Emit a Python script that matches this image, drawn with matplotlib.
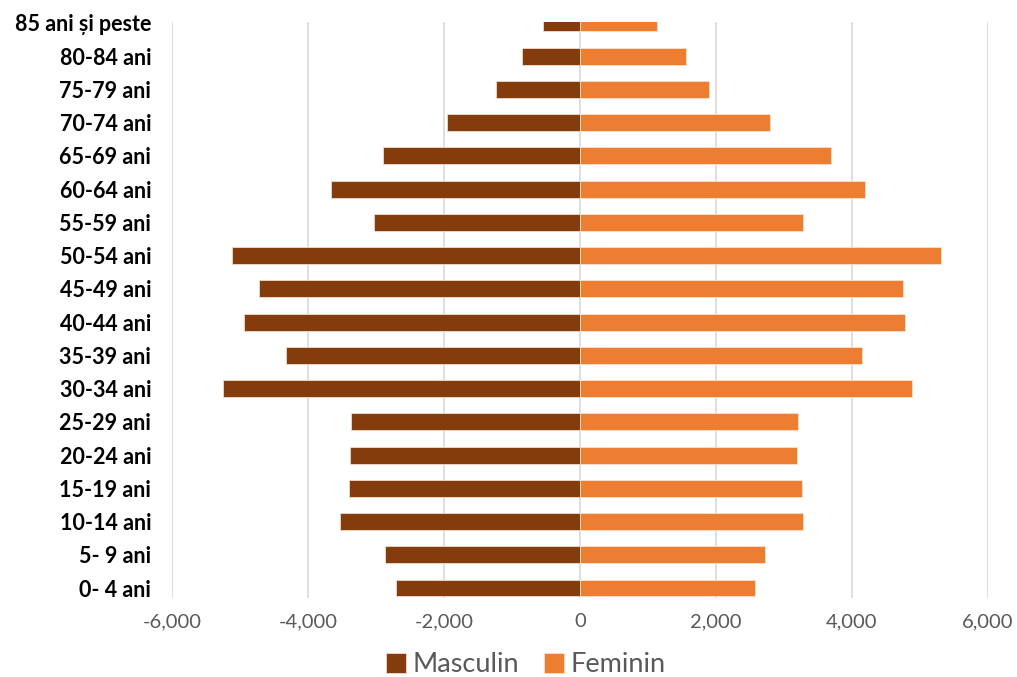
import matplotlib
matplotlib.use("Agg")
import matplotlib.pyplot as plt
from matplotlib.ticker import FuncFormatter

age_groups = ["0- 4 ani", "5- 9 ani", "10-14 ani", "15-19 ani", "20-24 ani", "25-29 ani",
              "30-34 ani", "35-39 ani", "40-44 ani", "45-49 ani", "50-54 ani", "55-59 ani",
              "60-64 ani", "65-69 ani", "70-74 ani", "75-79 ani", "80-84 ani", "85 ani și peste"]
masculin = [2706, 2868, 3529, 3397, 3382, 3368, 5250, 4324, 4941, 4721,
            5118, 3029, 3662, 2897, 1956, 1235, 853, 544]
feminin = [2574, 2721, 3279, 3265, 3191, 3206, 4882, 4147, 4779, 4750,
           5309, 3279, 4191, 3691, 2794, 1897, 1559, 1132]

plt.rcParams['font.family'] = ['Lato', 'DejaVu Sans']

fig = plt.figure(figsize=(10.17, 6.77), dpi=100)
ax = fig.add_axes([0.169, 0.1167, 0.8025, 0.8508])

y = list(range(len(age_groups)))
ax.barh(y, [-m for m in masculin], height=0.51, color="#843C0C", edgecolor="#F2DCCF",
        linewidth=0.6, label="Masculin", zorder=3)
ax.barh(y, feminin, height=0.51, color="#ED7D31", edgecolor="#FBE0CC",
        linewidth=0.6, label="Feminin", zorder=3)

ax.set_xlim(-6000, 6000)
ax.set_ylim(-0.3, 17.03)
ax.set_xticks(range(-6000, 6001, 2000))
ax.xaxis.set_major_formatter(FuncFormatter(lambda v, p: f"{int(v):,}"))
ax.set_yticks(y)
ax.set_yticklabels(age_groups, fontweight="bold", fontsize=15.5, color="black")
ax.tick_params(axis="x", colors="#595959", labelsize=14.5, length=0, pad=11)
ax.tick_params(axis="y", length=0, pad=15)
ax.grid(axis="x", color="#D9D9D9", linewidth=1.2, zorder=0)
for s in ax.spines.values():
    s.set_visible(False)

fig.legend(loc="center", bbox_to_anchor=(0.517, 0.018), ncol=2, frameon=False,
           fontsize=19.5, labelcolor="#595959", handlelength=0.75, handleheight=0.75,
           handletextpad=0.25, columnspacing=0.9, borderpad=0)

fig.savefig("out.png", dpi=100)
